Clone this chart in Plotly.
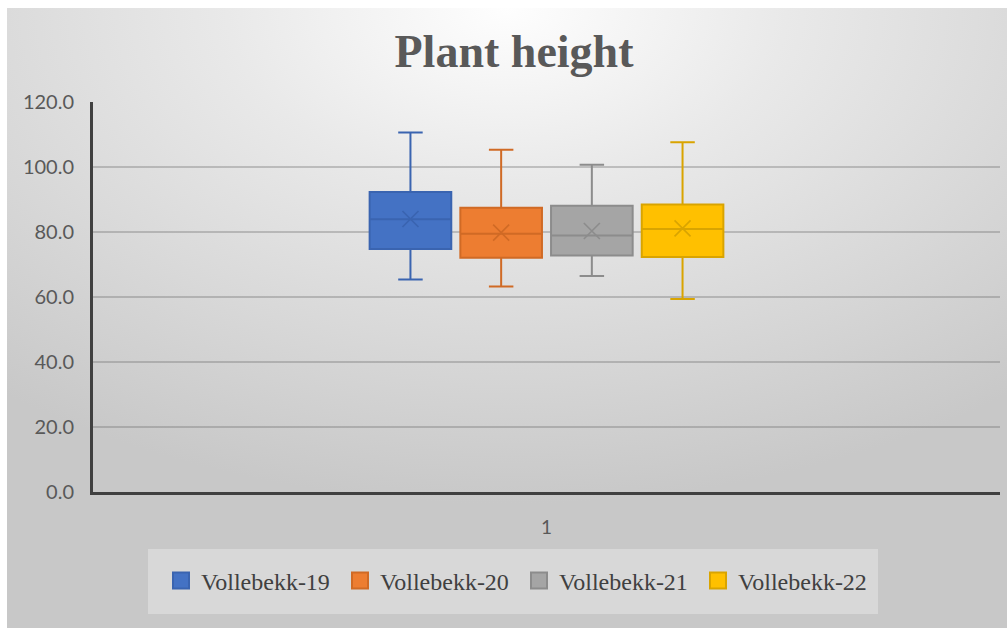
import base64
import plotly.graph_objects as go

# ---- data -------------------------------------------------------------
categories = ["1"]
series_names = ["Vollebekk-19", "Vollebekk-20", "Vollebekk-21", "Vollebekk-22"]
lower_whisker = [65.4, 63.2, 66.5, 59.4]
q1 = [74.8, 72.1, 72.8, 72.3]
median = [83.9, 79.5, 78.9, 80.9]
q3 = [92.3, 87.5, 88.1, 88.5]
upper_whisker = [110.6, 105.3, 100.7, 107.6]
means = [84.0, 79.8, 80.3, 81.1]
y_ticks = [0, 20, 40, 60, 80, 100, 120]

# ---- styling ----------------------------------------------------------
fill_colors = ["#4472C4", "#ED7D31", "#A5A5A5", "#FFC000"]
line_colors = ["#3A64B0", "#D06A25", "#8C8C8C", "#D9A400"]

W, H = 1007, 628
ML, MR, MT, MB = 93, 7, 102, 136
PW, PH = W - ML - MR, H - MT - MB
BOX_GAP, BOX_GROUP_GAP = 0.6, 0.1

# soft radial background of the chart area
BG_X0, BG_Y0 = 7, 8
bg_w, bg_h = W - BG_X0, H - BG_Y0
svg = f"""<svg xmlns='http://www.w3.org/2000/svg' width='{bg_w}' height='{bg_h}' viewBox='0 0 {bg_w} {bg_h}' preserveAspectRatio='none'>
<defs><radialGradient id='g' cx='0.5' cy='0' r='0.8' fx='0.5' fy='0'>
<stop offset='0' stop-color='#fefefe'/>
<stop offset='0.35' stop-color='#e9e9e9'/>
<stop offset='1' stop-color='#c8c8c8'/>
</radialGradient></defs>
<rect x='0' y='0' width='{bg_w}' height='{bg_h}' fill='url(#g)'/>
</svg>"""
bg_uri = "data:image/svg+xml;base64," + base64.b64encode(svg.encode()).decode()


def px_to_paper_x(px):
    return (px - ML) / PW


def px_to_paper_y(py):
    return (H - MB - py) / PH


fig = go.Figure()

for i, name in enumerate(series_names):
    fig.add_trace(go.Box(
        x=categories,
        q1=[q1[i]], median=[median[i]], q3=[q3[i]],
        lowerfence=[lower_whisker[i]], upperfence=[upper_whisker[i]],
        name=name,
        offsetgroup=f"g{i}",
        fillcolor=fill_colors[i],
        line=dict(color=line_colors[i], width=2),
        whiskerwidth=0.3,
        boxpoints=False,
        showlegend=False,
        legendgroup=name,
        hoverinfo="skip",
    ))

for i, name in enumerate(series_names):
    # mean marker
    fig.add_trace(go.Scatter(
        x=categories, y=[means[i]],
        mode="markers",
        offsetgroup=f"g{i}",
        marker=dict(symbol="x-thin", size=16,
                    line=dict(color=line_colors[i], width=1.6)),
        showlegend=False,
        legendgroup=name,
        hoverinfo="skip",
    ))

for i, name in enumerate(series_names):
    # legend swatch
    fig.add_trace(go.Scatter(
        x=[None], y=[None],
        mode="markers",
        offsetgroup=f"g{i}",
        name=name,
        legendgroup=name,
        marker=dict(symbol="square", size=16, color=fill_colors[i],
                    line=dict(color=line_colors[i], width=2)),
    ))

fig.update_layout(
    width=W, height=H,
    margin=dict(l=ML, r=MR, t=MT, b=MB, pad=0),
    paper_bgcolor="white",
    plot_bgcolor="rgba(0,0,0,0)",
    boxmode="group",
    boxgap=BOX_GAP,
    boxgroupgap=BOX_GROUP_GAP,
    scattermode="group",
    scattergap=BOX_GAP,
    title=dict(
        text="<b>Plant height</b>",
        font=dict(family="Liberation Serif, Times New Roman, serif",
                  size=46, color="#595959"),
        x=514 / W, xref="container", xanchor="center",
        y=1 - 51 / H, yref="container", yanchor="middle",
    ),
    xaxis=dict(
        type="category",
        range=[-0.5, 0.5],
        showgrid=False,
        showline=True, linecolor="#404040", linewidth=3,
        ticks="",
        ticklabelstandoff=16,
        tickfont=dict(family="Lato", size=19, color="#595959"),
        zeroline=False,
    ),
    yaxis=dict(
        range=[0, 120],
        tickvals=y_ticks,
        tickformat=".1f",
        showgrid=True, gridcolor="rgba(110,110,110,0.35)", gridwidth=2,
        showline=True, linecolor="#404040", linewidth=3,
        ticks="",
        ticklabelstandoff=12,
        tickfont=dict(family="Lato", size=20, color="#595959"),
        zeroline=False,
    ),
    legend=dict(
        orientation="h",
        x=px_to_paper_x(519), xanchor="center",
        y=px_to_paper_y(581), yanchor="middle",
        bgcolor="rgba(0,0,0,0)",
        font=dict(family="Liberation Serif, Times New Roman, serif",
                  size=24, color="#404040"),
        entrywidth=134, entrywidthmode="pixels",
        itemclick=False, itemdoubleclick=False,
    ),
    images=[dict(
        source=bg_uri, xref="paper", yref="paper",
        x=px_to_paper_x(BG_X0), y=px_to_paper_y(BG_Y0),
        sizex=bg_w / PW, sizey=bg_h / PH,
        xanchor="left", yanchor="top",
        sizing="stretch", layer="below",
    )],
    shapes=[dict(
        type="rect", xref="paper", yref="paper",
        x0=px_to_paper_x(148), x1=px_to_paper_x(878),
        y0=px_to_paper_y(614), y1=px_to_paper_y(549),
        fillcolor="rgba(255,255,255,0.3)", line=dict(width=0),
        layer="below",
    )],
)

fig.write_html("out.html")
